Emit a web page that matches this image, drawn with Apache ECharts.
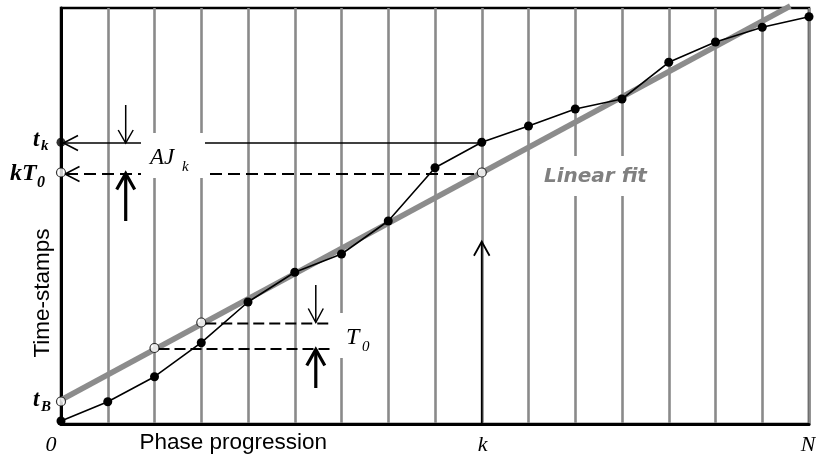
<!DOCTYPE html>
<html>
<head>
<meta charset="utf-8">
<script src="https://cdn.jsdelivr.net/npm/echarts@6/dist/echarts.min.js"></script>
<style>html,body{margin:0;padding:0;background:#fff}#c{width:816px;height:458px}</style>
</head>
<body>
<div id="c"></div>
<script>
// ---- data ----
const phase = [0,1,2,3,4,5,6,7,8,9,10,11,12,13,14,15,16];
const timestamps = [3,22.3,47.3,81.3,122,151.7,170,203,256.3,281.7,298,315,325,361.7,382,396.7,407.3];
const fitX = [0, 15.6];
const fitY = [24, 418];
const fitMarkX = [0, 2, 3, 9];
const fitMarkY = [22.5, 76, 101.5, 251.5];
const kIndex = 9;
const nIndex = 16;
const yMax = 416;
const tkLevel = 281;
const kT0Level = 251.5;
const t0Upper = 101.5;
const t0Lower = 76;
const xTickValues = [0, 9, 16];
const xTickTexts = ['0', 'k', 'N'];

// ---- annotation geometry (data units) ----
const ajArrowX = 1.384, ajTopY = 319, ajBottomY = 203;
const t0EndX = 5.82, t0ArrowX = 5.45, t0TopY = 139, t0BottomY = 36;
const kArrowTipY = 182.3;
const ajBox = [1.711, 291, 3.08, 246];
const t0Box = [5.82, 111, 6.93, 66];
const fitBox = [10.03, 268, 12.6, 228];

const chart = echarts.init(document.getElementById('c'), null, {renderer: 'canvas'});

const SERIF = '"Liberation Serif","Times New Roman",serif';
const SANS = '"Liberation Sans",Arial,sans-serif';

function renderAnn(params, api) {
  if (params.dataIndex !== 0) return;
  const c = (x, y) => api.coord([x, y]);
  const els = [];
  const line = (p1, p2, w, dash) => els.push({type: 'line', shape: {x1: p1[0], y1: p1[1], x2: p2[0], y2: p2[1]},
    style: {stroke: '#000', lineWidth: w, lineDash: dash || null}});
  const poly = (pts, w) => els.push({type: 'polyline', shape: {points: pts}, style: {stroke: '#000', lineWidth: w, fill: null}});
  const vArrow = (x, yTail, yTip, w, hw, hl) => {
    const a = c(x, yTail), b = c(x, yTip);
    line(a, b, w);
    const dir = b[1] > a[1] ? -1 : 1;
    poly([[b[0] - hw, b[1] + dir * hl], [b[0], b[1]], [b[0] + hw, b[1] + dir * hl]], w);
  };
  const hArrowLeft = (tip, w) => poly([[tip[0] + 14.5, tip[1] - 7.5], [tip[0], tip[1]], [tip[0] + 14.5, tip[1] + 7.5]], w);
  const box = (b) => { const p = c(b[0], b[1]), q = c(b[2], b[3]);
    els.push({type: 'rect', shape: {x: p[0], y: p[1], width: q[0] - p[0], height: q[1] - p[1]}, style: {fill: '#fff'}}); };
  const text = (s, x, y, font, align, fill, rot) => els.push({type: 'text', x: x, y: y, rotation: rot || 0,
    style: {text: s, font: font, fill: fill || '#000', align: align || 'left', verticalAlign: 'middle'}});

  const o = c(0, 0);
  const x0 = o[0];
  // t_k horizontal line
  const tkA = c(0, tkLevel), tkB = c(kIndex, tkLevel);
  line([tkA[0] + 2, tkA[1]], tkB, 1.5);
  hArrowLeft([tkA[0] + 2.5, tkA[1]], 1.6);
  // kT0 dashed line
  const kaA = c(0, kT0Level), kaB = c(kIndex, kT0Level);
  line([kaA[0] + 5, kaA[1] + 1.5], [kaB[0] - 4, kaB[1] + 1.5], 2, [12, 6]);
  hArrowLeft([kaA[0] + 4, kaA[1] + 1.5], 1.6);
  // AJ arrows
  vArrow(ajArrowX, ajTopY, tkLevel, 1.5, 7.5, 13);
  vArrow(ajArrowX, ajBottomY, kT0Level - 1, 3.2, 9, 16);
  // T0 dashed lines
  const u1 = c(3, t0Upper), u2 = c(t0EndX, t0Upper);
  line([u1[0] + 4, u1[1] + 1], [u2[0], u2[1] + 1], 2, [11, 5]);
  const l1 = c(2, t0Lower), l2 = c(t0EndX, t0Lower);
  line([l1[0] + 4, l1[1] + 1], [l2[0], l2[1] + 1], 2, [11, 5]);
  vArrow(t0ArrowX, t0TopY, t0Upper, 1.5, 7.5, 14);
  vArrow(t0ArrowX, t0BottomY, t0Lower - 1.5, 3.2, 9, 16);
  // k arrow
  vArrow(kIndex, 0, kArrowTipY, 1.8, 7.8, 14);
  // white label boxes
  box(ajBox); box(t0Box); box(fitBox);

  // labels inside the plot
  const ajP = c(ajBox[0], tkLevel);
  text('AJ', ajP[0] + 9, c(0, tkLevel)[1] + 14.5, 'italic 23px ' + SERIF);
  text('k', ajP[0] + 41, c(0, tkLevel)[1] + 24, 'italic 15px ' + SERIF);
  const t0P = c(t0Box[0], t0Upper);
  text('T', t0P[0] + 13, t0P[1] + 15.5, 'italic 24px ' + SERIF);
  text('0', t0P[0] + 29, t0P[1] + 25, 'italic 15px ' + SERIF);
  const fp = c(fitBox[0], fitBox[1]);
  text('Linear fit', fp[0] + 14, fp[1] + 21, 'italic bold 20px "DejaVu Sans",sans-serif', 'left', '#808080');

  // axis marks labels
  const yk = c(0, tkLevel)[1], yk0 = c(0, kT0Level)[1], yb = c(0, fitMarkY[0])[1];
  text('t', x0 - 28, yk - 3, 'italic bold 23px ' + SERIF);
  text('k', x0 - 20, yk + 3, 'italic bold 15px ' + SERIF);
  text('kT', x0 - 51, yk0 + 1.5, 'italic bold 24px ' + SERIF);
  text('0', x0 - 24, yk0 + 10, 'italic bold 16px ' + SERIF);
  text('t', x0 - 28, yb - 1, 'italic bold 23px ' + SERIF);
  text('B', x0 - 20, yb + 6, 'italic bold 15px ' + SERIF);

  // x tick labels
  const yBase = o[1];
  const offs = [-10, 0.8, -1];
  xTickValues.forEach((v, i) => {
    const p = c(v, 0);
    text(xTickTexts[i], p[0] + offs[i], yBase + 21, 'italic 22px ' + SERIF, 'center');
  });
  text('Phase progression', x0 + 78.5, yBase + 19, '22.5px ' + SANS, 'left');
  text('Time-stamps', x0 - 18.5, c(0, 131)[1], '22.5px ' + SANS, 'center', '#000', Math.PI / 2);
  return {type: 'group', children: els};
}

chart.setOption({
  animation: false,
  backgroundColor: '#fff',
  grid: {left: 61, right: 7, top: 8, bottom: 34, show: true, borderColor: '#000', borderWidth: 2.5, backgroundColor: 'transparent'},
  xAxis: {
    type: 'value', min: 0, max: nIndex, interval: 1,
    axisLine: {show: true, onZero: false, lineStyle: {color: '#000', width: 3}},
    axisTick: {show: false}, axisLabel: {show: false},
    splitLine: {show: true, lineStyle: {color: '#8a8a8a', width: 2.6}}
  },
  yAxis: {
    type: 'value', min: 0, max: yMax,
    axisLine: {show: true, onZero: false, lineStyle: {color: '#000', width: 3}},
    axisTick: {show: false}, axisLabel: {show: false}, splitLine: {show: false}
  },
  series: [
    {type: 'line', z: 2, clip: false, symbol: 'none', data: fitX.map((x, i) => [x, fitY[i]]),
      lineStyle: {color: '#8c8c8c', width: 5.5}},
    {type: 'line', z: 3, symbol: 'circle', symbolSize: 9, data: phase.map((x, i) => [x, timestamps[i]]),
      lineStyle: {color: '#000', width: 1.6}, itemStyle: {color: '#000'}},
    {type: 'custom', z: 4, coordinateSystem: 'cartesian2d', data: [[0, 0]], renderItem: renderAnn, silent: true},
    {type: 'scatter', z: 5, symbol: 'circle', symbolSize: 9, data: fitMarkX.map((x, i) => [x, fitMarkY[i]]).concat([[0, kT0Level]]),
      itemStyle: {color: '#fff', borderColor: '#000', borderWidth: 1.2}},
    {type: 'scatter', z: 5, symbol: 'circle', symbolSize: 9, data: [[0, timestamps[kIndex]]],
      itemStyle: {color: '#000'}}
  ]
});
</script>
</body>
</html>
